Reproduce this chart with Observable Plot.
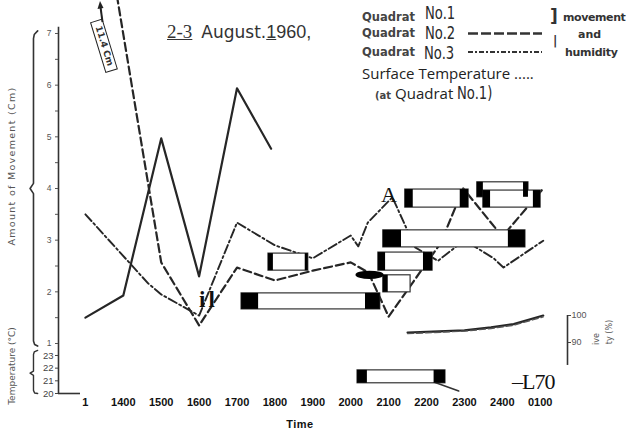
<!DOCTYPE html>
<html><head><meta charset="utf-8">
<script src="https://cdn.jsdelivr.net/npm/d3@7"></script>
<script src="https://cdn.jsdelivr.net/npm/@observablehq/plot@0.6"></script>
<style>
body{margin:0;background:#fff;}
#wrap{position:relative;width:630px;height:433px;overflow:hidden;background:#fff;}
#wrap svg{position:absolute;left:0;top:0;}
.t{position:absolute;white-space:nowrap;line-height:1;color:#2a2a2a;}
.big{position:absolute;white-space:nowrap;font-family:"DejaVu Sans Condensed","DejaVu Sans",sans-serif;font-size:17px;line-height:17px;color:#2a2a2a;transform:scaleX(0.86);transform-origin:0 0;}
.q{font-family:"DejaVu Sans",sans-serif;font-weight:bold;font-size:11.5px;color:#444;}
</style></head><body><div id="wrap"></div>
<script>
// ---- data ----
const hours = [13,14,15,16,17,18,19,20,21,22,23,24,25];
const hourLabels = ["1","1400","1500","1600","1700","1800","1900","2000","2100","2200","2300","2400","0100"];
const moveTicks = [1,2,3,4,5,6,7];
const moveMinor = [1.5,2.5,3.5,4.5,5.5,6.5];
const tempTicks = [20,21,22,23];
const humTicks = [90,100];

// Quadrat No.1 (solid) movement
const q1Time = [13,14,15,16,17,17.9];
const q1Move = [1.5,1.93,4.97,2.3,5.94,4.77];
// Quadrat No.2 (dashed) movement (1300 = 11.4 cm, off scale)
const q2Time = [13,15,16,17,18,19,20,20.47,21,22.37,22.97,24,25.08];
const q2Move = [11.4,2.57,1.35,2.47,2.22,2.41,2.57,2.37,1.52,2.94,4.0,3.07,4.0];
// Quadrat No.3 (dash-dot) movement
const q3Time = [13,14.66,15,16,17,18,19,20,20.2,20.45,21.1,21.7,22.3,23,23.77,24.03,25.08];
const q3Move = [3.5,2.16,1.95,1.54,3.34,2.9,2.65,3.09,2.88,3.34,3.83,2.86,2.6,3.0,2.65,2.47,2.99];
// humidity (%)
const humTime = [21.5,22,23,23.7,24.3,25.08];
const humQ1 = [93.7,93.9,94.5,95.6,96.8,100];
const humQ2 = [93.3,93.6,94.2,95.2,96.4,99.5];
// surface temperature fragment (deg C)
const tempTime = [22.1,22.85];
const tempVal = [21.0,20.2];
// boxes seen on the sheet (time span, cm span, dark end widths in hours)
const boxX1 = [17.83,17.12,21.44,23.34,23.50,20.86,20.73,20.86,20.18];
const boxX2 = [18.88,20.78,23.11,24.69,25.01,24.61,22.16,21.58,22.50];
const boxY1 = [2.41,1.66,3.63,3.83,3.63,2.86,2.41,1.99,0.23];
const boxY2 = [2.74,1.97,3.98,4.12,3.96,3.19,2.76,2.32,0.48];
const capL  = [0.13,0.45,0.21,0.16,0.19,0.48,0.19,0.13,0.26];
const capR  = [0.08,0.39,0.22,0.13,0.19,0.45,0.24,0.0,0.30];
const blobX = [20.14,20.88];
const blobY = [2.24,2.40];

// ---- scales ----
const xDom = [12.29,25.72], yDom = [0.0323,7.6387];
const tToCm = t => 0.0323 + (t-20)*0.2453;
const hToCm = h => 1 + (1 + (h-90)*2.7)/51.667;
const pts = (ts, vs) => ts.map((t,i)=>({t, v:vs[i]}));
const hourLab = new Map(hours.map((h,i)=>[h,hourLabels[i]]));
const tempLab = new Map(tempTicks.map(t=>[tToCm(t),String(t)]));
const humLab = new Map(humTicks.map(h=>[hToCm(h),String(h)]));
const boxes = boxX1.map((x,i)=>({x1:x,x2:boxX2[i],y1:boxY1[i],y2:boxY2[i],cl:capL[i],cr:capR[i]}));

const top1 = moveTicks[moveTicks.length-1], bot1 = moveTicks[0], mid1 = (top1+bot1)/2;
const bx = 11.63;
const braceMove = [{x:bx+0.11,y:top1+0.05},{x:bx+0.02,y:top1-0.02},{x:bx,y:top1-0.1},{x:bx,y:mid1+0.1},{x:bx-0.09,y:mid1},{x:bx,y:mid1-0.1},{x:bx,y:bot1+0.05},{x:bx+0.03,y:bot1-0.02},{x:bx+0.11,y:bot1-0.05}];
const tTop = tToCm(23.4), tBot = tToCm(20), tMid = tToCm(21.6);
const braceTemp = [{x:bx+0.11,y:tTop},{x:bx+0.02,y:tTop-0.03},{x:bx,y:tTop-0.08},{x:bx,y:tMid+0.04},{x:bx-0.09,y:tMid},{x:bx,y:tMid-0.04},{x:bx,y:tBot+0.06},{x:bx+0.03,y:tBot+0.01},{x:bx+0.11,y:tBot}];

const ink = "#262626";
const chart = Plot.plot({
  width:630, height:433, marginLeft:58, marginRight:63, marginTop:0, marginBottom:40,
  x:{domain:xDom, axis:null}, y:{domain:yDom, axis:null},
  style:{fontFamily:"'Liberation Sans', sans-serif", background:"transparent", overflow:"visible"},
  marks:[
    Plot.line(pts(q1Time,q1Move), {x:"t", y:"v", stroke:ink, strokeWidth:2.2, clip:true}),
    Plot.line(pts(q2Time,q2Move), {x:"t", y:"v", stroke:ink, strokeWidth:2.2, strokeDasharray:"8,4", clip:true}),
    Plot.line(pts(q3Time,q3Move), {x:"t", y:"v", stroke:ink, strokeWidth:1.9, strokeDasharray:"9,3,2,3", clip:true}),
    Plot.line(pts(humTime,humQ1), {x:"t", y:d=>hToCm(d.v), stroke:ink, strokeWidth:2.2}),
    Plot.line(pts(humTime,humQ2), {x:"t", y:d=>hToCm(d.v), stroke:"#555", strokeWidth:1.4, strokeDasharray:"6,3"}),
    Plot.line(pts(tempTime,tempVal), {x:"t", y:d=>tToCm(d.v), stroke:"#333", strokeWidth:1.6}),
    Plot.rect(boxes, {x1:"x1", x2:"x2", y1:"y1", y2:"y2", fill:"white", stroke:"#333", strokeWidth:1.2}),
    Plot.rect(boxes, {x1:"x1", x2:d=>d.x1+d.cl, y1:"y1", y2:"y2", fill:"black"}),
    Plot.rect(boxes.filter(d=>d.cr>0), {x1:d=>d.x2-d.cr, x2:"x2", y1:"y1", y2:"y2", fill:"black"}),
    Plot.rect([0], {x1:blobX[0], x2:blobX[1], y1:blobY[0], y2:blobY[1], rx:14, ry:4, fill:"black"}),
    // axes
    Plot.ruleX([xDom[0]], {y1:yDom[0], y2:top1+0.12, stroke:"#333", strokeWidth:1.6}),
    Plot.ruleY([yDom[0]], {x1:xDom[0], x2:12.87, stroke:"#333", strokeWidth:1.6}),
    Plot.axisY(moveTicks, {anchor:"left", tickSize:3, tickPadding:4, fontSize:8.5, fill:"#555", stroke:"#555", tickFormat:d=>String(d), label:null}),
    Plot.axisY(moveMinor, {anchor:"left", tickSize:3, tickFormat:()=>"", stroke:"#555", label:null}),
    Plot.axisY(tempTicks.map(tToCm), {anchor:"left", tickSize:3, tickPadding:2, fontSize:9.5, fill:"#444", stroke:"#444", tickFormat:d=>tempLab.get(d), label:null}),
    Plot.line(braceMove, {x:"x", y:"y", stroke:"#333", strokeWidth:1.6}),
    Plot.line(braceTemp, {x:"x", y:"y", stroke:"#333", strokeWidth:1.4}),
    Plot.axisX(hours, {anchor:"bottom", tickSize:0, tickPadding:5, fontSize:11, fontWeight:"bold", fill:"#111", tickFormat:d=>hourLab.get(d), label:null}),
    Plot.ruleX([xDom[1]], {y1:hToCm(81.5), y2:hToCm(100), stroke:"#333", strokeWidth:1.6}),
    Plot.axisY(humTicks.map(hToCm), {anchor:"right", tickSize:3, tickPadding:1, fontSize:9, fill:"#555", stroke:"#444", tickFormat:d=>humLab.get(d), label:null})
  ]
});
const wrap = document.getElementById("wrap");
wrap.appendChild(chart);

function txt(html, left, top, style, cls){
  const d=document.createElement("div"); d.className=cls||"t"; d.innerHTML=html;
  d.style.left=left+"px"; d.style.top=top+"px"; if(style) d.style.cssText+=style; wrap.appendChild(d); return d;
}
function rot(html, cx, cy, deg, style){
  const d=txt(html, cx, cy, style);
  d.style.transform=`translate(-50%,-50%) rotate(${deg}deg)`; return d;
}
// title
txt('<span style="font-family:\'Liberation Serif\',serif;font-size:19px;text-decoration:underline">2-3</span> <span style="font-family:\'DejaVu Sans\';font-size:17px;margin-left:5px">August.</span><span style="font-family:\'Liberation Sans\';font-size:18px;text-decoration:underline">1</span><span style="font-family:\'Liberation Sans\';font-size:18px">960,</span>', 167, 22, "color:#333;");
// left labels
rot("Amount of Movement (Cm)", 12, 166, -90, "font-family:'DejaVu Sans';font-size:9.5px;letter-spacing:1.3px;color:#555;");
rot("Temperature (°C)", 12, 366, -90, "font-family:'DejaVu Sans';font-size:9px;color:#555;");
// 11.4 Cm tag
rot("11.4 Cm", 104, 46, 73, "font-family:'DejaVu Sans';font-weight:bold;font-size:9px;border:1.6px solid #222;padding:1px 5px;color:#333;background:#fff;");
// legend
txt('Quadrat', 362, 12, "", "t q"); txt('No.1', 425, 5, "", "big");
txt('Quadrat', 362, 28, "", "t q"); txt('No.2', 425, 25, "", "big");
txt('Quadrat', 362, 47, "", "t q"); txt('No.3', 424, 45, "", "big");
txt('Surface Temperature .....', 362, 66, "font-family:'Open Sans';font-size:15px;line-height:15px;color:#222;");
txt('<span class="q" style="font-size:10px">(at</span> <span style="font-family:\'Open Sans\';font-size:15px">Quadrat</span>', 375, 86, "color:#222;line-height:14px;");
txt('No.1)', 457, 85, "", "big");
txt(']', 550, 8, "font-family:'DejaVu Sans';font-weight:bold;font-size:17px;color:#333;");
txt('|', 553, 35, "font-family:'DejaVu Sans';font-weight:bold;font-size:12px;color:#333;");
txt('movement', 563, 12, "font-family:'DejaVu Sans';font-weight:bold;font-size:11px;letter-spacing:-0.4px;color:#333;");
txt('and', 578, 29, "font-family:'DejaVu Sans';font-weight:bold;font-size:11px;color:#333;");
txt('humidity', 565, 47, "font-family:'DejaVu Sans';font-weight:bold;font-size:11px;letter-spacing:-0.3px;color:#333;");
// scattered marks on the sheet
txt('A', 381, 184, "font-family:'Liberation Serif';font-size:22px;color:#111;");
txt('il', 199, 288, "font-family:'Liberation Serif';font-weight:bold;font-size:23px;letter-spacing:3px;color:#111;");
txt('–L70', 512, 371, "font-family:'Liberation Serif';font-size:22px;letter-spacing:-1px;color:#111;");
rot('ive', 597, 339, -90, "font-family:'DejaVu Sans';font-size:8px;color:#555;");
rot('ty (%)', 610, 332, -90, "font-family:'DejaVu Sans';font-size:8px;color:#555;");
txt('Time', 300, 419, "font-family:'Liberation Sans';font-weight:bold;font-size:11px;color:#111;letter-spacing:0.5px;transform:translateX(-50%);");
// legend line samples and arrow (overlay)
const ns="http://www.w3.org/2000/svg";
const ov=document.createElementNS(ns,"svg"); ov.setAttribute("width",630); ov.setAttribute("height",433);
ov.innerHTML='<line x1="468" y1="33.5" x2="542" y2="33.5" stroke="#333" stroke-width="2.5" stroke-dasharray="10,3"/>'+
 '<line x1="468" y1="52" x2="542" y2="52" stroke="#333" stroke-width="2" stroke-dasharray="5,2,2,2"/>'+
 '<line x1="102.5" y1="22" x2="100.5" y2="7" stroke="#222" stroke-width="2"/>'+
 '<path d="M97.5,9 L100,1 L103.5,8 Z" fill="#222"/>';
wrap.appendChild(ov);
</script></body></html>
